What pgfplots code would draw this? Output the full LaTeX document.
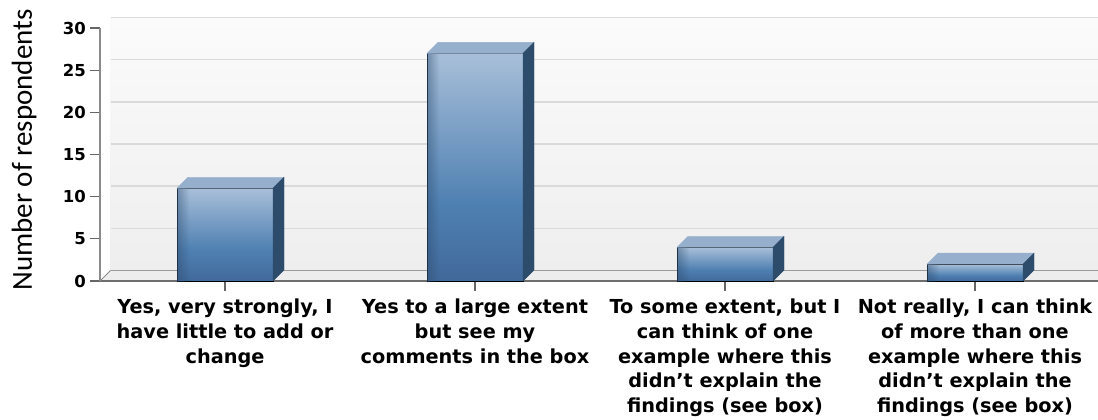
\documentclass[border=0pt]{standalone}
\usepackage{pgfplots}
\pgfplotsset{compat=1.18}
\usetikzlibrary{fadings}
\usepackage{fontspec}
\newfontfamily\labfont{Carlito}
\newfontfamily\tickfont{DejaVu Sans}
\definecolor{frontTop}{HTML}{A8BFD9}
\definecolor{frontMid}{HTML}{4F80B2}
\definecolor{frontBot}{HTML}{41699A}
\definecolor{topFace}{HTML}{95AFCD}
\definecolor{sideFace}{HTML}{2D4B6B}
\definecolor{wallTop}{HTML}{FBFBFB}
\definecolor{wallBot}{HTML}{EEEEEE}
\definecolor{floorc}{HTML}{EDEDED}
\definecolor{gridc}{HTML}{DADADA}
\definecolor{floorline}{HTML}{9A9A9A}
\definecolor{axisc}{HTML}{6E6E6E}
\definecolor{axisyc}{HTML}{8A8A8A}
\definecolor{tickc}{HTML}{666666}
\pgfdeclareverticalshading{barshade}{100bp}{color(0bp)=(frontBot); color(25bp)=(frontBot); color(42bp)=(frontMid); color(75bp)=(frontTop); color(100bp)=(frontTop)}
\tikzfading[name=edgefade, left color=transparent!55, right color=transparent!100]
\begin{document}
\begin{tikzpicture}
\begin{axis}[
  set layers=standard,
  at={(100pt,139pt)}, anchor=south west,
  x=250pt, y=8.43pt,
  xmin=-0.5, xmax=3.49, ymin=0, ymax=30,
  clip=false,
  axis x line*=bottom, axis y line*=left,
  x axis line style={-, draw=axisc, line width=2pt},
  y axis line style={-, draw=axisyc, line width=1.5pt},
  xtick={0,1,2,3},
  xticklabels={
    {Yes, very strongly, I\\have little to add or\\change},
    {Yes to a large extent\\but see my\\comments in the box},
    {To some extent, but I\\can think of one\\example where this\\didn’t explain the\\findings (see box)},
    {Not really, I can think\\of more than one\\example where this\\didn’t explain the\\findings (see box)}},
  ytick={0,5,...,30},
  tick align=outside,
  major tick length=10pt,
  tick style={draw=tickc, line width=1.2pt},
  /pgf/number format/assume math mode=true,
  xticklabel style={font=\tickfont\bfseries\fontsize{19.3}{24.6}\selectfont, align=center, anchor=north, inner sep=0pt, yshift=-8pt},
  yticklabel style={font=\tickfont\bfseries\fontsize{16.5}{16.5}\selectfont, inner sep=4pt},
  ymajorgrids,
  major grid style={draw=gridc, line width=1.5pt, xshift=10.5pt, yshift=10.5pt},
  ylabel={Number of respondents},
  every axis y label/.style={at={(axis description cs:-0.0682,0.518)}, rotate=90, anchor=base, font=\labfont\fontsize{29}{29}\selectfont},
]
\begin{pgfonlayer}{axis background}
\shade[top color=wallTop, bottom color=wallBot] ([shift={(10.5pt,10.5pt)}]axis description cs:0,0) rectangle ([shift={(10.5pt,10.5pt)}]axis description cs:1,1);
\fill[floorc] (axis description cs:0,0) -- ([shift={(10.5pt,10.5pt)}]axis description cs:0,0) -- ([shift={(10.5pt,10.5pt)}]axis description cs:1,0) -- (axis description cs:1,0) -- cycle;
\end{pgfonlayer}
\draw[floorline, line width=1.5pt] ([shift={(10.5pt,10.5pt)}]axis description cs:0,0) -- ([shift={(10.5pt,10.5pt)}]axis description cs:1,0);
\draw[axisyc, line width=1pt] (axis description cs:0,0) -- ([shift={(10.5pt,10.5pt)}]axis description cs:0,0);

\addplot[ybar, bar width=96pt, bar shift=0pt, draw=none, fill=frontMid]
  coordinates {(0,11) (1,27) (2,4) (3,2)};

\addplot[scatter, only marks, mark=*, mark size=0pt, mark options={draw=none, fill=none},
  visualization depends on={rawy \as \barval},
  scatter/@pre marker code/.code={%
    \pgfmathsetmacro\hh{\barval*8.43}%
    \shade[shading=barshade] (-48pt,0pt) rectangle (48pt,{-\hh*1pt});
    \fill[sideFace, path fading=edgefade, fit fading=true] (-48pt,0pt) rectangle (-36pt,{-\hh*1pt});
    \fill[topFace] (-48pt,0pt) -- (-37pt,11pt) -- (59pt,11pt) -- (48pt,0pt) -- cycle;
    \fill[sideFace] (48pt,0pt) -- (59pt,11pt) -- (59pt,{(11-\hh)*1pt}) -- (48pt,{-\hh*1pt}) -- cycle;
  },
  scatter/@post marker code/.code={}]
  coordinates {(0,11) (1,27) (2,4) (3,2)};
\end{axis}
\pgfresetboundingbox
\path[use as bounding box] (0,0) rectangle (1098pt,420pt);
\end{tikzpicture}
\end{document}
